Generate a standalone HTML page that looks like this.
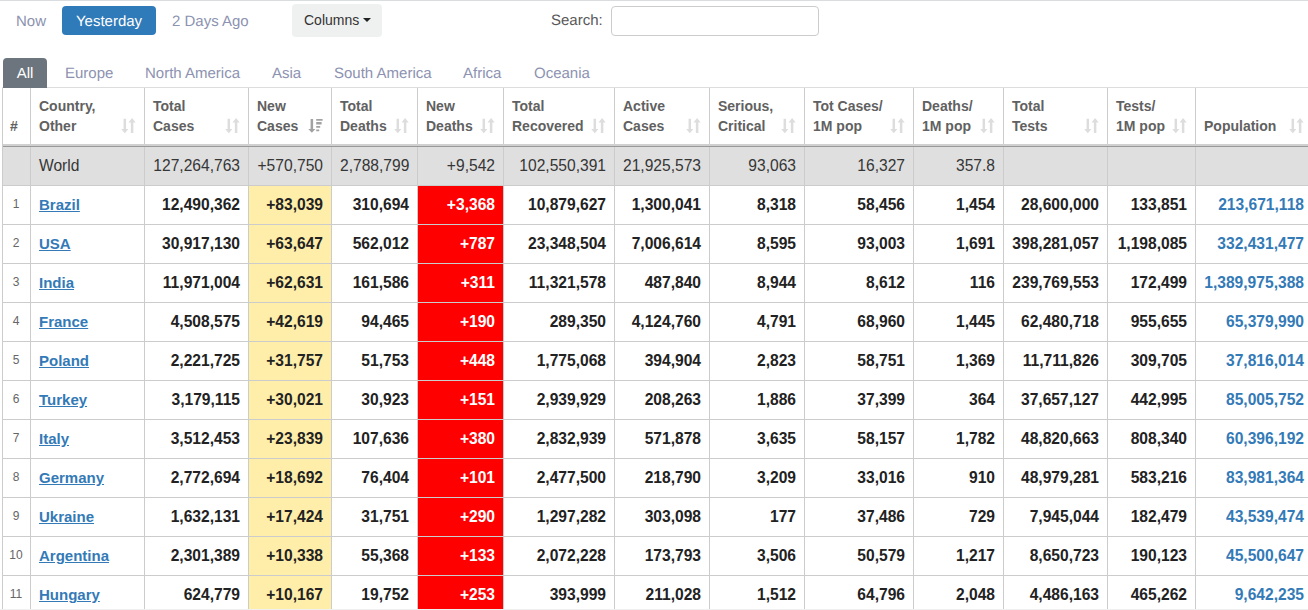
<!DOCTYPE html><html><head><meta charset="utf-8"><title>COVID table</title><style>
*{box-sizing:border-box;margin:0;padding:0}
html,body{width:1308px;height:610px;overflow:hidden;background:#fff}
body{position:relative;font-family:"Liberation Sans",Arial,sans-serif;color:#333}
.topline{position:absolute;left:0;top:0;width:1308px;height:1px;background:#d9dde0}
.abs{position:absolute;white-space:nowrap}
.pill{font-size:15px;color:#8c92b0;line-height:18px;text-rendering:geometricPrecision}
.yest{position:absolute;left:62px;top:6px;width:94px;height:29px;background:#2f7ab8;border-radius:4px;color:#fff;font-size:15px;line-height:29px;text-align:center}
.colbtn{position:absolute;left:292px;top:4px;width:90px;height:33px;background:#eff0f0;border-radius:4px;font-size:14px;color:#333;line-height:33px}
.botline{position:absolute;left:0;top:609px;width:1308px;height:1px;background:#f0f0f0;z-index:5}
th.hash{padding-left:7px}
.caret{position:absolute;left:71px;top:14px;width:0;height:0;border-left:4px solid transparent;border-right:4px solid transparent;border-top:4px solid #222}
.search{font-size:15px;color:#585858;text-rendering:geometricPrecision}
.sinput{position:absolute;left:611px;top:6px;width:208px;height:30px;border:1px solid #ccc;border-radius:4px;background:#fff}
.navline{position:absolute;left:2px;top:87px;width:1306px;height:1px;background:#ddd}
.alltab{position:absolute;left:3px;top:58px;width:44px;height:30px;background:#6c757d;border-radius:4px 4px 0 0;color:#fff;font-size:15px;line-height:30px;text-align:center}
.reg{font-size:15px;color:#8c92b0;line-height:18px;text-rendering:geometricPrecision}
table{position:absolute;left:2px;top:88px;border-collapse:separate;border-spacing:0;table-layout:fixed;border-left:1px solid #ccc;width:1311px}
th,td{border-right:1px solid #ccc;border-bottom:1px solid #ccc;padding:8px;overflow:visible;white-space:nowrap}
th{height:56px;font-size:14px;font-weight:bold;color:#616161;line-height:20px;text-align:left;vertical-align:bottom;position:relative;border-bottom:none}
th .si{position:absolute;right:8px;bottom:10px}
thead tr.band td{height:3px;padding:0;border:none;border-top:2px solid #d0d0d0;border-bottom:1px solid #999;background:#fff}
td{height:39px;font-size:15.6px;font-weight:bold;color:#222;line-height:22px;text-align:right;vertical-align:top}
td.rk{font-size:12px;font-weight:normal;color:#666;text-align:center;vertical-align:top;padding:7px 1px 0 0}
td.cn{text-align:left;font-size:15px;letter-spacing:0}
tr.world td.cn{font-size:15.6px}
td.cn a{color:#337ab7;text-decoration:underline}
td.pop{color:#337ab7}
tr.world td{background:#dfdfdf;font-weight:normal;color:#363636;height:39px}
td.nc{background:#ffeeaa}
td.nd{background:#f00;color:#fff}
tr.world td.nc, tr.world td.nd{background:#dfdfdf;color:#363636}
</style></head><body>
<div class="topline"></div>
<div class="abs pill" style="left:16px;top:13px">Now</div>
<div class="yest"><span style="text-rendering:geometricPrecision">Yesterday</span></div>
<div class="abs pill" style="left:172px;top:13px">2 Days Ago</div>
<div class="colbtn"><span class="abs" style="left:12px;top:0">Columns</span><span class="caret"></span></div>
<div class="abs search" style="left:551px;top:12px">Search:</div>
<div class="sinput"></div>
<div class="navline"></div>
<div class="alltab">All</div>
<div class="abs reg" style="left:65px;top:65px">Europe</div>
<div class="abs reg" style="left:145px;top:65px">North America</div>
<div class="abs reg" style="left:272px;top:65px">Asia</div>
<div class="abs reg" style="left:334px;top:65px">South America</div>
<div class="abs reg" style="left:463px;top:65px">Africa</div>
<div class="abs reg" style="left:534px;top:65px">Oceania</div>
<table><colgroup><col style="width:28px"><col style="width:114px"><col style="width:104px"><col style="width:83px"><col style="width:86px"><col style="width:86px"><col style="width:111px"><col style="width:95px"><col style="width:95px"><col style="width:109px"><col style="width:90px"><col style="width:104px"><col style="width:88px"><col style="width:117px"></colgroup><thead><tr>
<th class="hash">#</th>
<th>Country,<br>Other<svg class="si" width="16" height="16" viewBox="0 0 16 16"><path d="M3.55 0.7h2.5v10.2h2.35l-3.6 4.4l-3.6-4.4h2.35z M10.85 14.9h2.5v-10.5h2.35l-3.6-4.4l-3.6 4.4h2.35z" fill="#ddd"/></svg></th>
<th>Total<br>Cases<svg class="si" width="16" height="16" viewBox="0 0 16 16"><path d="M3.55 0.7h2.5v10.2h2.35l-3.6 4.4l-3.6-4.4h2.35z M10.85 14.9h2.5v-10.5h2.35l-3.6-4.4l-3.6 4.4h2.35z" fill="#ddd"/></svg></th>
<th>New<br>Cases<svg class="si" width="16" height="16" viewBox="0 0 16 16"><path d="M3.6 1.0h2.5v9.9h2.3l-3.55 3.9l-3.55-3.9h2.3z" fill="#a2a2a2"/><path d="M9.2 1.0h6.4v1.8h-6.4z M9.2 4.0h5.4v2.5h-5.4z M9.2 8.0h4v1.8h-4z M9.2 11.4h3v1.8h-3z" fill="#a2a2a2"/></svg></th>
<th>Total<br>Deaths<svg class="si" width="16" height="16" viewBox="0 0 16 16"><path d="M3.55 0.7h2.5v10.2h2.35l-3.6 4.4l-3.6-4.4h2.35z M10.85 14.9h2.5v-10.5h2.35l-3.6-4.4l-3.6 4.4h2.35z" fill="#ddd"/></svg></th>
<th>New<br>Deaths<svg class="si" width="16" height="16" viewBox="0 0 16 16"><path d="M3.55 0.7h2.5v10.2h2.35l-3.6 4.4l-3.6-4.4h2.35z M10.85 14.9h2.5v-10.5h2.35l-3.6-4.4l-3.6 4.4h2.35z" fill="#ddd"/></svg></th>
<th>Total<br>Recovered<svg class="si" width="16" height="16" viewBox="0 0 16 16"><path d="M3.55 0.7h2.5v10.2h2.35l-3.6 4.4l-3.6-4.4h2.35z M10.85 14.9h2.5v-10.5h2.35l-3.6-4.4l-3.6 4.4h2.35z" fill="#ddd"/></svg></th>
<th>Active<br>Cases<svg class="si" width="16" height="16" viewBox="0 0 16 16"><path d="M3.55 0.7h2.5v10.2h2.35l-3.6 4.4l-3.6-4.4h2.35z M10.85 14.9h2.5v-10.5h2.35l-3.6-4.4l-3.6 4.4h2.35z" fill="#ddd"/></svg></th>
<th>Serious,<br>Critical<svg class="si" width="16" height="16" viewBox="0 0 16 16"><path d="M3.55 0.7h2.5v10.2h2.35l-3.6 4.4l-3.6-4.4h2.35z M10.85 14.9h2.5v-10.5h2.35l-3.6-4.4l-3.6 4.4h2.35z" fill="#ddd"/></svg></th>
<th>Tot&nbsp;Cases/<br>1M pop<svg class="si" width="16" height="16" viewBox="0 0 16 16"><path d="M3.55 0.7h2.5v10.2h2.35l-3.6 4.4l-3.6-4.4h2.35z M10.85 14.9h2.5v-10.5h2.35l-3.6-4.4l-3.6 4.4h2.35z" fill="#ddd"/></svg></th>
<th>Deaths/<br>1M pop<svg class="si" width="16" height="16" viewBox="0 0 16 16"><path d="M3.55 0.7h2.5v10.2h2.35l-3.6 4.4l-3.6-4.4h2.35z M10.85 14.9h2.5v-10.5h2.35l-3.6-4.4l-3.6 4.4h2.35z" fill="#ddd"/></svg></th>
<th>Total<br>Tests<svg class="si" width="16" height="16" viewBox="0 0 16 16"><path d="M3.55 0.7h2.5v10.2h2.35l-3.6 4.4l-3.6-4.4h2.35z M10.85 14.9h2.5v-10.5h2.35l-3.6-4.4l-3.6 4.4h2.35z" fill="#ddd"/></svg></th>
<th>Tests/<br>1M pop<svg class="si" width="16" height="16" viewBox="0 0 16 16"><path d="M3.55 0.7h2.5v10.2h2.35l-3.6 4.4l-3.6-4.4h2.35z M10.85 14.9h2.5v-10.5h2.35l-3.6-4.4l-3.6 4.4h2.35z" fill="#ddd"/></svg></th>
<th>Population<svg class="si" width="16" height="16" viewBox="0 0 16 16"><path d="M3.55 0.7h2.5v10.2h2.35l-3.6 4.4l-3.6-4.4h2.35z M10.85 14.9h2.5v-10.5h2.35l-3.6-4.4l-3.6 4.4h2.35z" fill="#ddd"/></svg></th>
</tr><tr class="band"><td></td><td></td><td></td><td></td><td></td><td></td><td></td><td></td><td></td><td></td><td></td><td></td><td></td><td></td></tr></thead><tbody>
<tr class="world"><td class="rk"></td><td class="cn">World</td><td>127,264,763</td><td class="nc">+570,750</td><td>2,788,799</td><td class="nd">+9,542</td><td>102,550,391</td><td>21,925,573</td><td>93,063</td><td>16,327</td><td>357.8</td><td></td><td></td><td class="pop"></td></tr>
<tr><td class="rk">1</td><td class="cn"><a>Brazil</a></td><td>12,490,362</td><td class="nc">+83,039</td><td>310,694</td><td class="nd">+3,368</td><td>10,879,627</td><td>1,300,041</td><td>8,318</td><td>58,456</td><td>1,454</td><td>28,600,000</td><td>133,851</td><td class="pop">213,671,118</td></tr>
<tr><td class="rk">2</td><td class="cn"><a>USA</a></td><td>30,917,130</td><td class="nc">+63,647</td><td>562,012</td><td class="nd">+787</td><td>23,348,504</td><td>7,006,614</td><td>8,595</td><td>93,003</td><td>1,691</td><td>398,281,057</td><td>1,198,085</td><td class="pop">332,431,477</td></tr>
<tr><td class="rk">3</td><td class="cn"><a>India</a></td><td>11,971,004</td><td class="nc">+62,631</td><td>161,586</td><td class="nd">+311</td><td>11,321,578</td><td>487,840</td><td>8,944</td><td>8,612</td><td>116</td><td>239,769,553</td><td>172,499</td><td class="pop">1,389,975,388</td></tr>
<tr><td class="rk">4</td><td class="cn"><a>France</a></td><td>4,508,575</td><td class="nc">+42,619</td><td>94,465</td><td class="nd">+190</td><td>289,350</td><td>4,124,760</td><td>4,791</td><td>68,960</td><td>1,445</td><td>62,480,718</td><td>955,655</td><td class="pop">65,379,990</td></tr>
<tr><td class="rk">5</td><td class="cn"><a>Poland</a></td><td>2,221,725</td><td class="nc">+31,757</td><td>51,753</td><td class="nd">+448</td><td>1,775,068</td><td>394,904</td><td>2,823</td><td>58,751</td><td>1,369</td><td>11,711,826</td><td>309,705</td><td class="pop">37,816,014</td></tr>
<tr><td class="rk">6</td><td class="cn"><a>Turkey</a></td><td>3,179,115</td><td class="nc">+30,021</td><td>30,923</td><td class="nd">+151</td><td>2,939,929</td><td>208,263</td><td>1,886</td><td>37,399</td><td>364</td><td>37,657,127</td><td>442,995</td><td class="pop">85,005,752</td></tr>
<tr><td class="rk">7</td><td class="cn"><a>Italy</a></td><td>3,512,453</td><td class="nc">+23,839</td><td>107,636</td><td class="nd">+380</td><td>2,832,939</td><td>571,878</td><td>3,635</td><td>58,157</td><td>1,782</td><td>48,820,663</td><td>808,340</td><td class="pop">60,396,192</td></tr>
<tr><td class="rk">8</td><td class="cn"><a>Germany</a></td><td>2,772,694</td><td class="nc">+18,692</td><td>76,404</td><td class="nd">+101</td><td>2,477,500</td><td>218,790</td><td>3,209</td><td>33,016</td><td>910</td><td>48,979,281</td><td>583,216</td><td class="pop">83,981,364</td></tr>
<tr><td class="rk">9</td><td class="cn"><a>Ukraine</a></td><td>1,632,131</td><td class="nc">+17,424</td><td>31,751</td><td class="nd">+290</td><td>1,297,282</td><td>303,098</td><td>177</td><td>37,486</td><td>729</td><td>7,945,044</td><td>182,479</td><td class="pop">43,539,474</td></tr>
<tr><td class="rk">10</td><td class="cn"><a>Argentina</a></td><td>2,301,389</td><td class="nc">+10,338</td><td>55,368</td><td class="nd">+133</td><td>2,072,228</td><td>173,793</td><td>3,506</td><td>50,579</td><td>1,217</td><td>8,650,723</td><td>190,123</td><td class="pop">45,500,647</td></tr>
<tr><td class="rk">11</td><td class="cn"><a>Hungary</a></td><td>624,779</td><td class="nc">+10,167</td><td>19,752</td><td class="nd">+253</td><td>393,999</td><td>211,028</td><td>1,512</td><td>64,796</td><td>2,048</td><td>4,486,163</td><td>465,262</td><td class="pop">9,642,235</td></tr>
</tbody></table><div class="botline"></div></body></html>
